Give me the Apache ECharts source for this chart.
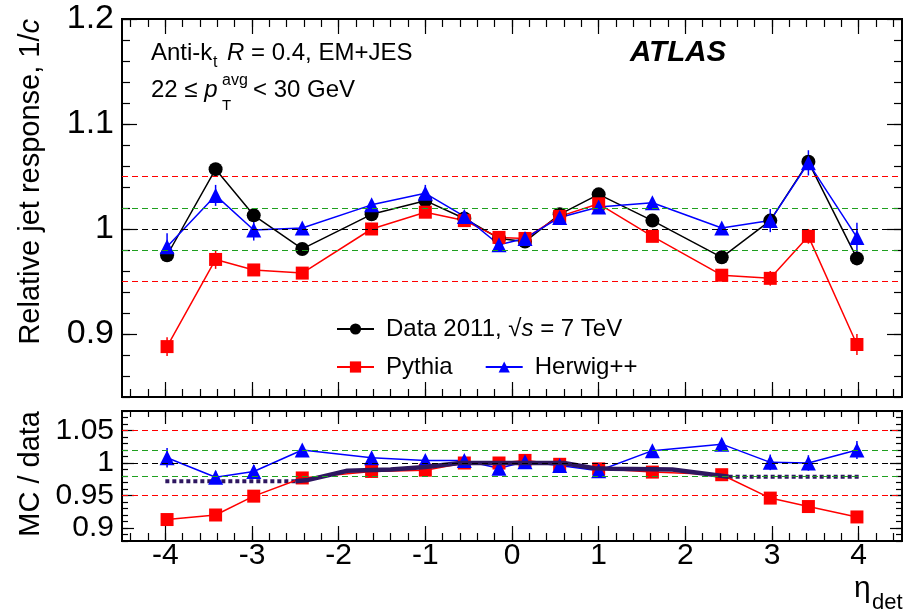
<!DOCTYPE html>
<html><head><meta charset="utf-8">
<script src="https://cdn.jsdelivr.net/npm/echarts@6/dist/echarts.min.js"></script>
<style>html,body{margin:0;padding:0;background:#fff}#c{width:903px;height:612px}</style>
</head><body><div id="c"></div><script>
// ---- data ----
const etaBins = [-3.98,-3.42,-2.98,-2.42,-1.62,-1.0,-0.55,-0.15,0.15,0.55,1.0,1.62,2.42,2.98,3.42,3.98];
const dataResp   = [0.975,1.057,1.013,0.981,1.014,1.027,1.010,0.991,0.988,1.014,1.033,1.008,0.973,1.008,1.064,0.972];
const pythiaResp = [0.888,0.971,0.961,0.958,1.000,1.016,1.008,0.992,0.991,1.012,1.024,0.993,0.956,0.953,0.993,0.890];
const herwigResp = [0.983,1.032,0.999,1.001,1.023,1.034,1.012,0.985,0.991,1.011,1.021,1.025,1.001,1.008,1.063,0.992];
const pythiaErr  = [0.009,0.009,0.005,0.004,0.002,0.002,0.002,0.002,0.002,0.002,0.002,0.002,0.004,0.007,0.007,0.010];
const herwigErr  = [0.013,0.010,0.010,0.004,0.003,0.008,0.003,0.002,0.002,0.002,0.003,0.003,0.003,0.011,0.012,0.014];
const pythiaRatio = [0.913,0.920,0.949,0.977,0.987,0.989,1.000,1.000,1.004,0.998,0.991,0.986,0.982,0.946,0.933,0.917];
const herwigRatio = [1.008,0.978,0.987,1.020,1.008,1.004,1.004,0.992,1.002,0.996,0.988,1.019,1.029,1.001,1.000,1.020];
const pythiaRatioErr = [0.008,0.006,0.004,0.003,0.002,0.002,0.002,0.002,0.002,0.002,0.002,0.002,0.003,0.005,0.005,0.009];
const herwigRatioErr = [0.015,0.010,0.010,0.004,0.003,0.006,0.003,0.002,0.002,0.002,0.003,0.003,0.003,0.012,0.012,0.014];
const systLeft  = [[-4.0,0.972],[-2.5,0.972]];
const systMid   = [[-2.5,0.972],[-2.35,0.974],[-1.9,0.988],[-1.4,0.990],[-1.0,0.994],[-0.6,1.0],[0.6,1.0],[0.95,0.992],[1.15,0.991],[1.85,0.990],[2.5,0.979]];
const systRight = [[2.5,0.979],[4.0,0.979]];
const refLevels = [1.05,1.02,1.0,0.98,0.95];
const xTickLabels = [-4,-3,-2,-1,0,1,2,3,4];
const topYLabels = [0.9,1.0,1.1,1.2];
const botYLabels = [0.9,0.95,1.0,1.05];
const names = ['Data 2011, √s = 7 TeV','Pythia','Herwig++'];

// ---- axis decoration values ----
const xMinor = []; for (let v=-44; v<=44; v+=2) xMinor.push(v/10);
const topYMinor = []; for (let v=84; v<=120; v+=2) topYMinor.push(v/100);
const botYMinor = []; for (let v=88; v<=108; v+=1) botYMinor.push(v/100);

const F = '"Liberation Sans", Arial, Helvetica, sans-serif';
const RED='#ff0000', BLUE='#0000ff', BLACK='#000000', GREEN='#1fa01f', PURPLE='#2e1760';
const refColors = [RED, GREEN, BLACK, GREEN, RED];

function xAx(grid, pos, ticks, len, labels) {
  return {type:'value', gridIndex:grid, position:pos, min:-4.5, max:4.5,
    axisLine:{show:false,onZero:false}, splitLine:{show:false},
    axisTick:{show:true, inside:true, length:len, customValues:ticks, lineStyle:{color:'#000', width:1.2}},
    axisLabel: labels ? {show:true, customValues:labels, fontSize:30, fontFamily:F, color:'#000', margin:0} : {show:false}};
}
function yAx(grid, pos, min, max, ticks, len, labels, fs) {
  return {type:'value', gridIndex:grid, position:pos, min:min, max:max,
    axisLine:{show:false,onZero:false}, splitLine:{show:false},
    axisTick:{show:true, inside:true, length:len, customValues:ticks, lineStyle:{color:'#000', width:1.2}},
    axisLabel: labels ? {show:true, customValues:labels, fontSize:fs, fontFamily:F, color:'#000', margin:8} : {show:false}};
}
const zip = (xs, ys) => xs.map((x,i)=>[x, ys[i]]);
function errSeries(xi, yi, ys, es, color) {
  return {type:'custom', xAxisIndex:xi, yAxisIndex:yi, z:1, silent:true,
    encode:{x:0,y:1},
    data: etaBins.map((x,i)=>[x, ys[i], es[i]]),
    renderItem:(params, api)=>{
      const x=api.value(0), y=api.value(1), e=api.value(2);
      const p1=api.coord([x,y-e]), p2=api.coord([x,y+e]);
      return {type:'line', shape:{x1:p1[0],y1:p1[1],x2:p2[0],y2:p2[1]}, style:{stroke:color, lineWidth:1.5}};
    }};
}
function refSeries(xi, yi) {
  return {type:'line', xAxisIndex:xi, yAxisIndex:yi, data:[], silent:true, z:0,
    markLine:{silent:true, symbol:['none','none'], label:{show:false}, animation:false,
      data: refLevels.map((v,i)=>({yAxis:v, lineStyle:{color:refColors[i], type:[6,4], width:1.2}}))}};
}
function mcSeries(name, xi, yi, ys, color, symbol, size, z) {
  return {name:name, type:'line', xAxisIndex:xi, yAxisIndex:yi, data:zip(etaBins, ys), z:z,
    symbol:symbol, symbolSize:size, showSymbol:true, itemStyle:{color:color},
    lineStyle:{color:color, width:1.5}, emphasis:{disabled:true}};
}

const option = {
  animation:false,
  textStyle:{fontFamily:F},
  grid:[
    {left:122, right:1, top:19, height:378, show:true, borderColor:'#000', borderWidth:2, backgroundColor:'transparent'},
    {left:122, right:1, top:411, height:130, show:true, borderColor:'#000', borderWidth:2, backgroundColor:'transparent'}
  ],
  xAxis:[
    xAx(0,'bottom',xTickLabels,15,null), xAx(0,'bottom',xMinor,8,null),
    xAx(0,'top',xTickLabels,15,null), xAx(0,'top',xMinor,8,null),
    xAx(1,'bottom',xTickLabels,15,xTickLabels), xAx(1,'bottom',xMinor,8,null),
    xAx(1,'top',xTickLabels,13,null), xAx(1,'top',xMinor,6,null)
  ],
  yAxis:[
    yAx(0,'left',0.84,1.2,topYLabels,15,topYLabels,34), yAx(0,'left',0.84,1.2,topYMinor,8,null),
    yAx(0,'right',0.84,1.2,topYLabels,15,null), yAx(0,'right',0.84,1.2,topYMinor,8,null),
    yAx(1,'left',0.88,1.08,botYLabels,12,botYLabels,30), yAx(1,'left',0.88,1.08,botYMinor,6,null),
    yAx(1,'right',0.88,1.08,botYLabels,12,null), yAx(1,'right',0.88,1.08,botYMinor,6,null)
  ],
  legend:[
    {data:[names[0]], left:336, top:317, padding:0, orient:'horizontal', itemWidth:37, itemHeight:14, itemGap:32, selectedMode:false,
      formatter:(n)=>n.replace('√s','√{i|s}'),
      textStyle:{fontSize:24, fontFamily:F, color:'#000', padding:[0,0,0,7], rich:{i:{fontSize:24, fontStyle:'italic', fontFamily:F, color:'#000'}}}},
    {data:[names[1],names[2]], left:336, top:355, padding:0, orient:'horizontal', itemWidth:37, itemHeight:14, itemGap:32, selectedMode:false,
      textStyle:{fontSize:24, fontFamily:F, color:'#000', padding:[0,0,0,7]}}
  ],
  series:[
    refSeries(0,0),
    refSeries(4,4),
    errSeries(0,0,pythiaResp,pythiaErr,RED),
    errSeries(0,0,herwigResp,herwigErr,BLUE),
    mcSeries(names[0],0,0,dataResp,BLACK,'circle',14,3),
    mcSeries(names[1],0,0,pythiaResp,RED,'rect',13,3),
    mcSeries(names[2],0,0,herwigResp,BLUE,'triangle',15,3),
    errSeries(4,4,pythiaRatio,pythiaRatioErr,RED),
    errSeries(4,4,herwigRatio,herwigRatioErr,BLUE),
    {type:'line', xAxisIndex:4, yAxisIndex:4, data:systLeft, showSymbol:false, symbol:'none', z:2, silent:true,
      lineStyle:{color:PURPLE, width:4, type:[4,3]}},
    {type:'line', xAxisIndex:4, yAxisIndex:4, data:systRight, showSymbol:false, symbol:'none', z:2, silent:true,
      lineStyle:{color:PURPLE, width:4, type:[4,3]}},
    {type:'line', xAxisIndex:4, yAxisIndex:4, data:systMid, showSymbol:false, symbol:'none', z:4, silent:true,
      lineStyle:{color:PURPLE, width:4.5}},
    {name:'PythiaR', type:'line', xAxisIndex:4, yAxisIndex:4, data:zip(etaBins,pythiaRatio), z:3,
      symbol:'rect', symbolSize:13, itemStyle:{color:RED}, lineStyle:{color:RED,width:1.5}},
    {name:'HerwigR', type:'line', xAxisIndex:4, yAxisIndex:4, data:zip(etaBins,herwigRatio), z:3,
      symbol:'triangle', symbolSize:15, itemStyle:{color:BLUE}, lineStyle:{color:BLUE,width:1.5}}
  ],
  graphic:[
    {type:'text', x:31, y:19, rotation:Math.PI/2, style:{text:'Relative jet response, 1/{i|c}', fontSize:29, fontFamily:F, fill:'#000', align:'right', verticalAlign:'middle',
      rich:{i:{fontSize:29, fontFamily:F, fontStyle:'italic', fill:'#000'}}}},
    {type:'text', x:31, y:411, rotation:Math.PI/2, style:{text:'MC / data', fontSize:29, fontFamily:F, fill:'#000', align:'right', verticalAlign:'middle'}},
    {type:'text', x:151, y:53.5, style:{text:'Anti-k', fontSize:24, fontFamily:F, fill:'#000', align:'left', verticalAlign:'middle'}},
    {type:'text', x:213, y:63, style:{text:'t', fontSize:16, fontFamily:F, fill:'#000', align:'left', verticalAlign:'middle'}},
    {type:'text', x:227, y:53.5, style:{text:'{i|R} = 0.4, EM+JES', fontSize:24, fontFamily:F, fill:'#000', align:'left', verticalAlign:'middle',
      rich:{i:{fontSize:24, fontFamily:F, fontStyle:'italic', fill:'#000'}}}},
    {type:'text', x:151, y:90, style:{text:'22 ≤ {i|p}', fontSize:24, fontFamily:F, fill:'#000', align:'left', verticalAlign:'middle',
      rich:{i:{fontSize:24, fontFamily:F, fontStyle:'italic', fill:'#000'}}}},
    {type:'text', x:222, y:81, style:{text:'avg', fontSize:16, fontFamily:F, fill:'#000', align:'left', verticalAlign:'middle'}},
    {type:'text', x:222, y:105.5, style:{text:'T', fontSize:15, fontFamily:F, fill:'#000', align:'left', verticalAlign:'middle'}},
    {type:'text', x:253, y:90, style:{text:'< 30 GeV', fontSize:24, fontFamily:F, fill:'#000', align:'left', verticalAlign:'middle'}},
    {type:'text', x:630, y:52.5, style:{text:'ATLAS', fontSize:29.5, fontFamily:F, fontWeight:'bold', fontStyle:'italic', fill:'#000', align:'left', verticalAlign:'middle'}},
    {type:'text', x:854, y:589, style:{text:'η', fontSize:30, fontFamily:F, fill:'#000', align:'left', verticalAlign:'middle'}},
    {type:'text', x:872, y:603, style:{text:'det', fontSize:22, fontFamily:F, fill:'#000', align:'left', verticalAlign:'middle'}}
  ]
};
const chart = echarts.init(document.getElementById('c'));
chart.setOption(option);
</script></body></html>
